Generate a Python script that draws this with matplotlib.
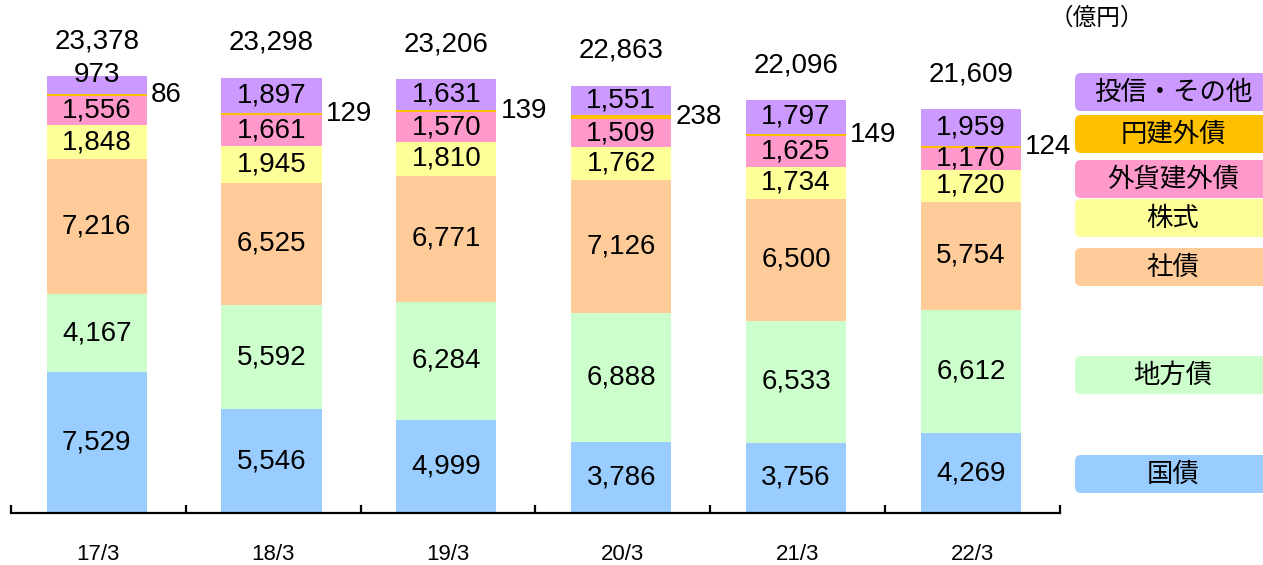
import numpy as np
import matplotlib
matplotlib.use("Agg")
import matplotlib.pyplot as plt
from matplotlib.patches import FancyBboxPatch

plt.rcParams['font.family'] = ['Liberation Sans', 'Noto Sans CJK JP', 'DejaVu Sans']

# data (億円)
periods = ["17/3", "18/3", "19/3", "20/3", "21/3", "22/3"]
kokusai = [7529, 5546, 4999, 3786, 3756, 4269]
chihousai = [4167, 5592, 6284, 6888, 6533, 6612]
shasai = [7216, 6525, 6771, 7126, 6500, 5754]
kabushiki = [1848, 1945, 1810, 1762, 1734, 1720]
gaika_gaisai = [1556, 1661, 1570, 1509, 1625, 1170]
endate_gaisai = [86, 129, 139, 238, 149, 124]
toshin_sonota = [973, 1897, 1631, 1551, 1797, 1959]
totals = [23378, 23298, 23206, 22863, 22096, 21609]

series = [
    ("国債", kokusai, "#99CCFF"),
    ("地方債", chihousai, "#CCFFCC"),
    ("社債", shasai, "#FFCC99"),
    ("株式", kabushiki, "#FFFF99"),
    ("外貨建外債", gaika_gaisai, "#FF99CC"),
    ("円建外債", endate_gaisai, "#FFC000"),
    ("投信・その他", toshin_sonota, "#CC99FF"),
]

W, H = 1263, 565
fig = plt.figure(figsize=(W / 100, H / 100), dpi=100)
ax = fig.add_axes([11 / W, (H - 513) / H, (1060 - 11) / W, 513 / H])

x = np.arange(len(periods))
bw = 0.572
bottom = np.zeros(len(periods))
for name, vals, col in series:
    vals = np.array(vals, dtype=float)
    ax.bar(x - 0.01, vals, bw, bottom=bottom, color=col, linewidth=0)
    for i, v in enumerate(vals):
        lab = f"{int(v):,}"
        if name == "円建外債":
            ax.annotate(lab, (x[i] - 0.01 + bw / 2, bottom[i] + v / 2), xytext=(3, 0),
                        textcoords="offset points", ha="left", va="center", fontsize=20)
        else:
            dy = 7 if v < 1000 else 0
            ax.annotate(lab, (x[i] - 0.01, bottom[i] + v / 2), xytext=(0, dy),
                        textcoords="offset points", ha="center", va="center", fontsize=20)
    bottom += vals

for i, t in enumerate(totals):
    ax.annotate(f"{t:,}", (x[i] - 0.01, bottom[i]), xytext=(0, 25), textcoords="offset points",
                ha="center", va="center", fontsize=20)

ax.set_xlim(-0.5, len(periods) - 0.5)
ax.set_ylim(0, 27443)
ax.set_yticks([])
for s in ["top", "right", "left"]:
    ax.spines[s].set_visible(False)
ax.spines["bottom"].set_linewidth(1.6)
ax.set_xticks(x)
ax.set_xticklabels(periods, fontsize=16)
ax.set_xticks(np.arange(len(periods) + 1) - 0.5, minor=True)
ax.tick_params(axis="x", which="major", length=0, pad=22)
ax.tick_params(axis="x", which="minor", direction="in", length=5.5, width=1.6)

# legend boxes on the right
lax = fig.add_axes([0, 0, 1, 1])
lax.set_xlim(0, W)
lax.set_ylim(H, 0)
lax.axis("off")
legend_y = {"投信・その他": 92, "円建外債": 134, "外貨建外債": 179, "株式": 218,
            "社債": 267, "地方債": 375, "国債": 474}
for name, vals, col in series:
    cy = legend_y[name]
    lax.add_patch(FancyBboxPatch((1079, cy - 15), 200, 30,
                                 boxstyle="round,pad=4,rounding_size=6",
                                 facecolor=col, edgecolor="none", clip_on=False))
    lax.text(1173, cy, name, ha="center", va="center", fontsize=19,
             family=['Noto Sans CJK JP'])

lax.text(1097, 18, "（億円）", ha="center", va="center", fontsize=17,
         family=['Noto Sans CJK JP'])

fig.savefig("out.png", dpi=100)
